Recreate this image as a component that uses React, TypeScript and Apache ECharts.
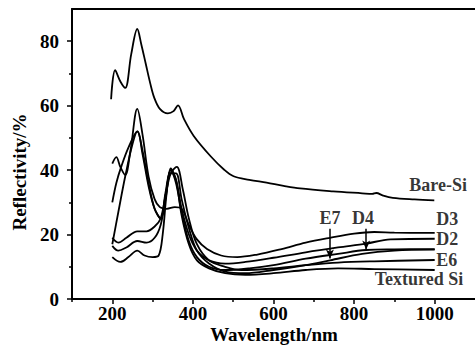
import React, { useEffect, useRef } from "react";
import * as echarts from "echarts";

// x: wavelength (nm), y: reflectivity (%)
const bareSi: number[][] = [
  [197, 62], [207, 71], [220, 67.5], [232, 65.5], [247, 76], [262, 83.8], [272, 79], [283, 73],
  [294, 67], [304, 62.5], [318, 59], [338, 57.6], [352, 58.3], [363, 60.1], [378, 55.8],
  [402, 50.6], [444, 44.3], [477, 40.2], [501, 38.1], [540, 37], [583, 36.1], [625, 35.1],
  [666, 34.3], [748, 33.4], [820, 32.8], [845, 32.6], [855, 32.9], [872, 32.1], [896, 31.4], [950, 30.9], [999, 30.6],
];
const d3: number[][] = [
  [200, 42], [210, 44], [220, 41], [232, 38.5], [245, 46], [262, 59], [275, 51], [290, 38],
  [305, 31], [318, 28.5], [335, 28], [355, 28.5], [372, 28], [390, 23], [410, 18.5], [435, 15.5],
  [470, 13.5], [510, 13], [560, 13.8], [620, 15.5], [680, 17.5], [740, 19], [800, 20.3],
  [850, 20.8], [900, 20.6], [1000, 20.5],
];
const d2: number[][] = [
  [200, 30], [210, 36], [222, 41], [240, 47], [262, 52], [275, 45], [290, 35], [305, 28],
  [320, 25], [332, 33], [345, 40], [358, 37], [372, 28], [390, 20], [410, 15], [440, 12],
  [480, 11], [530, 11.5], [600, 12.8], [680, 14.5], [760, 16], [830, 17.2], [890, 18.5], [1000, 18.7],
];
const d4: number[][] = [
  [200, 17], [215, 27], [232, 38], [250, 48], [262, 52], [275, 46], [290, 36], [305, 28],
  [320, 25], [332, 32], [345, 40], [358, 36], [372, 27], [390, 18], [410, 13], [440, 10],
  [480, 9], [540, 9.5], [600, 10.5], [680, 12.5], [760, 14], [830, 15.2], [900, 15.4], [1000, 15.5],
];
const e6: number[][] = [
  [200, 19], [215, 17.5], [235, 19], [262, 21], [285, 21], [305, 22.5], [320, 25], [332, 32],
  [345, 39], [360, 41], [375, 34], [390, 25], [410, 17], [440, 12], [480, 10], [520, 9],
  [600, 9.5], [680, 10.5], [760, 11.3], [850, 11.7], [1000, 12.1],
];
const e7: number[][] = [
  [200, 16.5], [215, 15], [235, 16], [262, 18], [285, 17.5], [305, 19], [320, 23], [332, 31],
  [345, 39], [358, 39], [372, 31], [390, 22], [410, 15], [440, 11], [480, 8.5], [530, 8],
  [600, 9], [680, 10.5], [740, 12], [820, 14], [900, 15], [1000, 15.3],
];
const texturedSi: number[][] = [
  [200, 13], [220, 11.5], [240, 13], [262, 15], [280, 13.5], [300, 13], [315, 13.5], [325, 20],
  [335, 33], [345, 40.5], [358, 37], [372, 26], [390, 17], [410, 12], [440, 9.5], [480, 8],
  [530, 7.5], [600, 8], [680, 9], [760, 9.5], [850, 9.3], [1000, 9],
];

const curves = [
  { name: "Bare-Si", data: bareSi },
  { name: "D3", data: d3 },
  { name: "D2", data: d2 },
  { name: "D4", data: d4 },
  { name: "E6", data: e6 },
  { name: "E7", data: e7 },
  { name: "Textured Si", data: texturedSi },
];

const xMajorTicks = [200, 400, 600, 800, 1000];
const xMinorTicks = [100, 300, 500, 700, 900];
const yMajorTicks = [0, 20, 40, 60, 80];
const yMinorTicks = [10, 30, 50, 70];

// curve labels: [x, y, text]
const sideLabels: [number, number, string][] = [
  [937, 35.5, "Bare-Si"],
  [1004, 24.8, "D3"],
  [1004, 18.5, "D2"],
  [1004, 12.2, "E6"],
  [851, 6.2, "Textured Si"],
];
const arrowLabels: [number, number, string][] = [
  [740, 25.2, "E7"],
  [822, 25.2, "D4"],
];
const arrows: [number, number, number][] = [
  [740, 21.8, 12.6],
  [830, 21.8, 15.4],
];

const FONT = "'Liberation Serif', 'Times New Roman', serif";

export default function App() {
  const ref = useRef<HTMLDivElement>(null);
  useEffect(() => {
    document.body.style.margin = "0";
    const chart = echarts.init(ref.current!, null, { renderer: "svg" });
    const textStyle = { color: "#000", fontFamily: FONT, fontSize: 19, fontWeight: "bold" as const };
    const lineSeries = curves.map((c) => ({
      type: "line" as const,
      name: c.name,
      data: c.data,
      smooth: 0.35,
      showSymbol: false,
      symbol: "none",
      xAxisIndex: 0,
      yAxisIndex: 0,
      lineStyle: { color: "#000", width: 1.8 },
      silent: true,
    }));
    chart.setOption({
      animation: false,
      backgroundColor: "#fff",
      grid: { left: 72, top: 9, width: 405, height: 290, containLabel: false },
      xAxis: [
        {
          type: "value", min: 100, max: 1100, position: "bottom",
          axisLine: { show: true, lineStyle: { color: "#000", width: 2 } },
          axisTick: { show: true, customValues: xMajorTicks, length: 5, lineStyle: { color: "#000", width: 1.5 } },
          axisLabel: { show: true, customValues: xMajorTicks, margin: 6, formatter: (v: number) => String(v), ...textStyle, lineHeight: 16 },
          splitLine: { show: false },
        },
        {
          type: "value", min: 100, max: 1100, position: "bottom",
          axisLine: { show: false },
          axisTick: { show: true, customValues: xMinorTicks, length: 3, lineStyle: { color: "#000", width: 1.5 } },
          axisLabel: { show: false },
          splitLine: { show: false },
        },
        {
          type: "value", min: 100, max: 1100, position: "top",
          axisLine: { show: true, lineStyle: { color: "#000", width: 2 } },
          axisTick: { show: false },
          axisLabel: { show: false },
          splitLine: { show: false },
        },
      ],
      yAxis: [
        {
          type: "value", min: 0, max: 90, position: "left",
          axisLine: { show: true, lineStyle: { color: "#000", width: 2 } },
          axisTick: { show: true, customValues: yMajorTicks, length: 5, lineStyle: { color: "#000", width: 1.5 } },
          axisLabel: { show: true, customValues: yMajorTicks, margin: 13, formatter: (v: number) => String(v), ...textStyle },
          splitLine: { show: false },
        },
        {
          type: "value", min: 0, max: 90, position: "left",
          axisLine: { show: false },
          axisTick: { show: true, customValues: yMinorTicks, length: 3, lineStyle: { color: "#000", width: 1.5 } },
          axisLabel: { show: false },
          splitLine: { show: false },
        },
      ],
      graphic: [
        {
          type: "text", x: 19, y: 172, rotation: Math.PI / 2,
          style: { text: "Reflectivity/%", fill: "#000", font: `bold 19px ${FONT}`, align: "center", verticalAlign: "middle" },
        },
        {
          type: "text", x: 274, y: 334,
          style: { text: "Wavelength/nm", fill: "#000", font: `bold 19px ${FONT}`, align: "center", verticalAlign: "middle" },
        },
      ],
      series: [
        ...lineSeries,
        {
          type: "scatter",
          data: sideLabels.map((l) => ({ value: [l[0], l[1]], name: l[2] })),
          symbolSize: 0,
          silent: true,
          label: { show: true, position: "right", distance: 0, formatter: (p: any) => p.name, ...textStyle, fontSize: 18, lineHeight: 15, verticalAlign: "middle" },
          markLine: {
            silent: true,
            symbol: ["none", "arrow"],
            symbolSize: [6, 9],
            label: { show: false },
            lineStyle: { color: "#000", width: 1.5, type: "solid" },
            data: arrows.map((a) => [{ coord: [a[0], a[1]] }, { coord: [a[0], a[2]] }]),
          },
        },
        {
          type: "scatter",
          data: arrowLabels.map((l) => ({ value: [l[0], l[1]], name: l[2] })),
          symbolSize: 0,
          silent: true,
          label: { show: true, position: "inside", formatter: (p: any) => p.name, ...textStyle, fontSize: 18 },
        },
      ],
    });
    return () => chart.dispose();
  }, []);
  return <div ref={ref} style={{ position: "fixed", left: 0, top: 0, width: 475, height: 358 }} />;
}
